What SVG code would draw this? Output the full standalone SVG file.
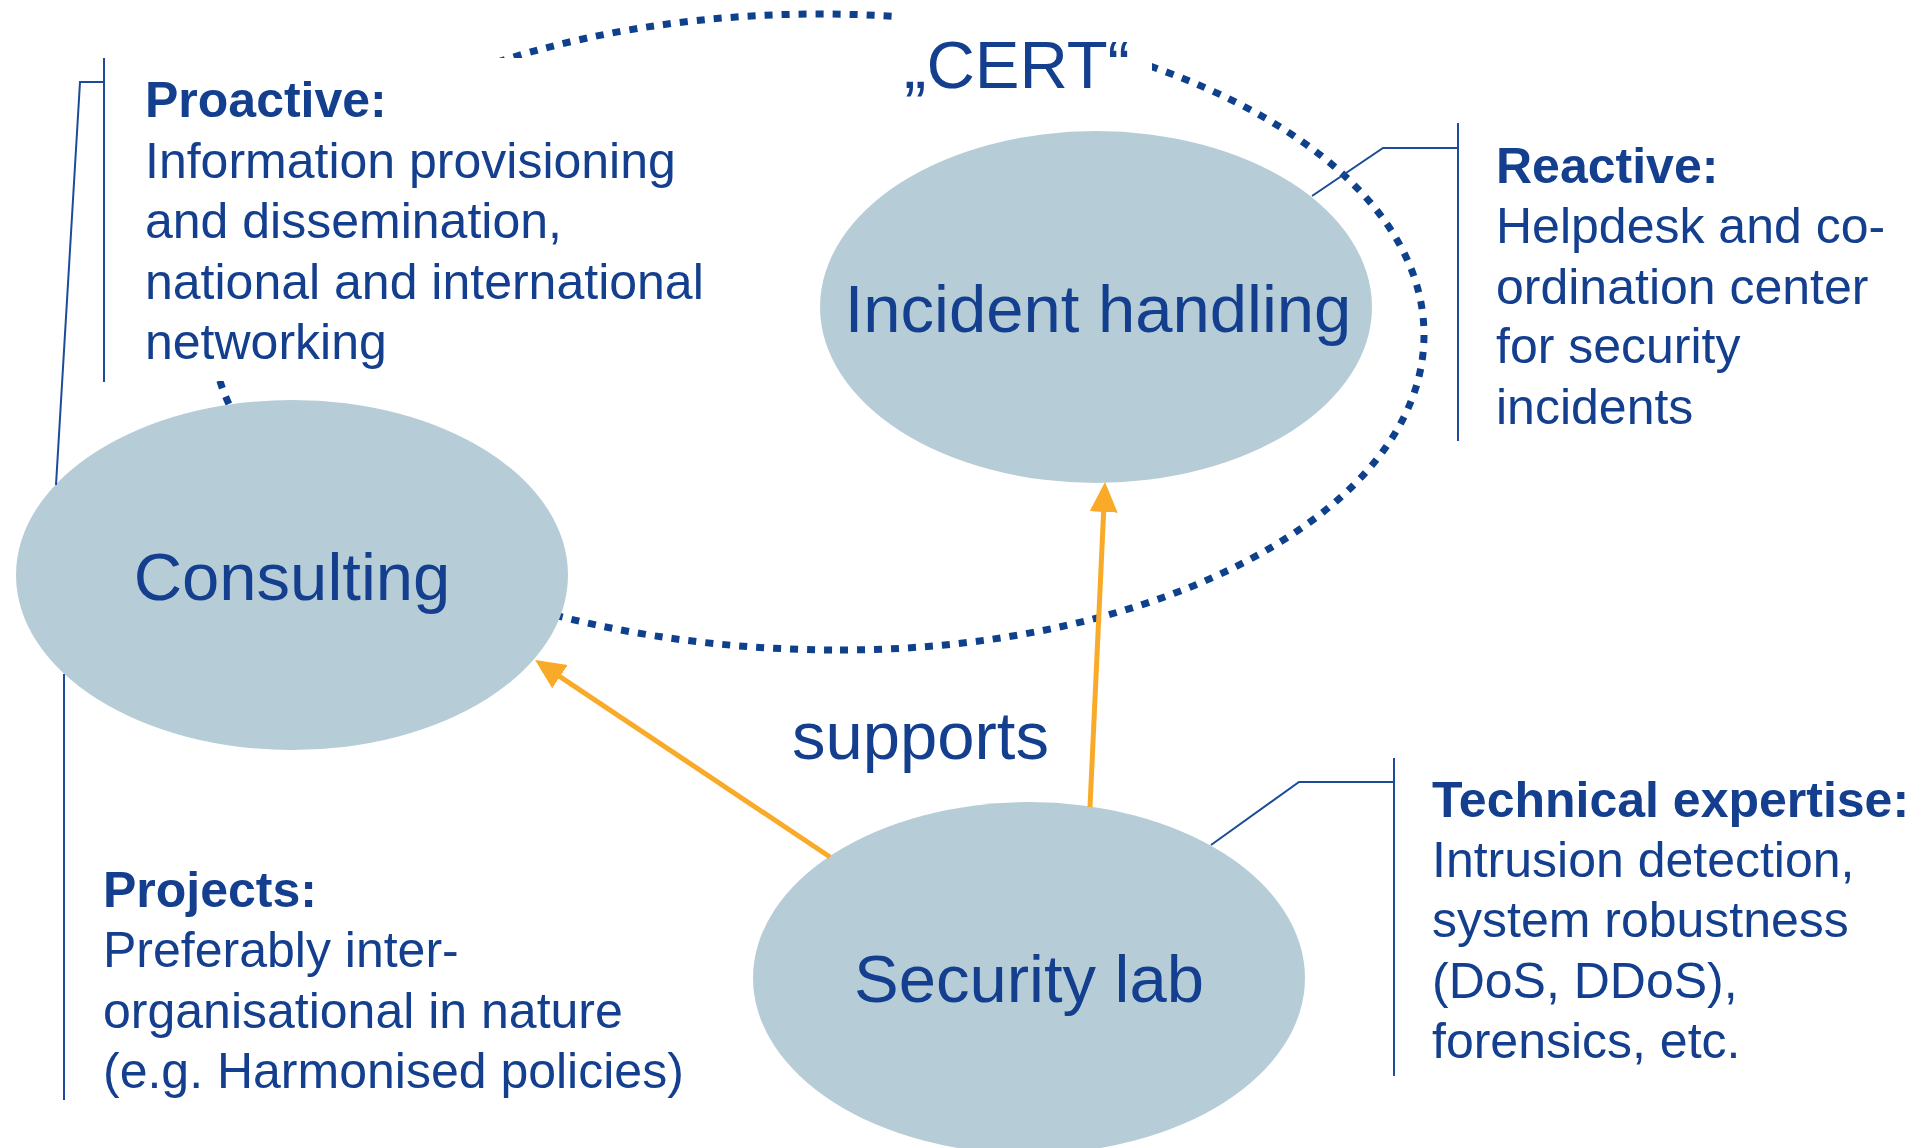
<svg xmlns="http://www.w3.org/2000/svg" width="1928" height="1148" viewBox="0 0 1928 1148">
<style>
.node{fill:#B6CDD7}
.lbl{font-family:"Liberation Sans",Arial,sans-serif;font-size:67px;fill:#133F8E;text-anchor:middle}
.txt{font-family:"Liberation Sans",Arial,sans-serif;font-size:50px;fill:#133F8E}
.hd{font-weight:bold}
.brk{fill:none;stroke:#1C4B9C;stroke-width:2}
.arr{fill:none;stroke:#F9AA28;stroke-width:5;marker-end:url(#ah)}
.cert{fill:none;stroke:#0E408C;stroke-width:7;stroke-dasharray:8 9}
.mask{fill:#FFFFFF}
</style>
<defs>
<marker id="ah" markerUnits="userSpaceOnUse" markerWidth="32" markerHeight="30" refX="6" refY="14" orient="auto">
<path d="M0,0 L30,14 L0,28 Z" fill="#F9AA28"/>
</marker>
</defs>
<rect width="1928" height="1148" fill="#FFFFFF"/>
<g id="cert-boundary">
<path class="cert" d="M840,650 C1162.5,650 1424,509 1424,335 C1424,157.7 1153.6,14 820,14 C484.2,14 212,155.5 212,330 C212,506.7 493.2,650 840,650 Z"/>
<rect class="mask" x="898" y="-5" width="254" height="110"/>
<rect class="mask" x="110" y="58" width="610" height="323"/>
<text class="lbl" x="1017" y="88">„CERT“</text>
</g>
<g id="consulting">
<ellipse class="node" cx="292" cy="575" rx="276" ry="175"/>
<text class="lbl" x="292" y="600">Consulting</text>
</g>
<g id="incident-handling">
<ellipse class="node" cx="1096" cy="307" rx="276" ry="176"/>
<text class="lbl" x="1098" y="332">Incident handling</text>
</g>
<g id="security-lab">
<ellipse class="node" cx="1029" cy="978" rx="276" ry="176"/>
<text class="lbl" x="1029" y="1002">Security lab</text>
</g>
<g id="connectors">
<polyline class="brk" points="56,485 80,82 104,82"/>
<line class="brk" x1="104" y1="58" x2="104" y2="382"/>
<line class="brk" x1="64" y1="674" x2="64" y2="1100"/>
<polyline class="brk" points="1312,196 1383,148 1458,148"/>
<line class="brk" x1="1458" y1="123" x2="1458" y2="441"/>
<polyline class="brk" points="1211,845 1299,782 1394,782"/>
<line class="brk" x1="1394" y1="758" x2="1394" y2="1076"/>
<line class="arr" x1="1090" y1="807" x2="1103.9" y2="506"/>
<line class="arr" x1="830" y1="857" x2="555" y2="673.3"/>
<text class="txt" x="792" y="759" style="font-size:67px">supports</text>
</g>
<g id="proactive">
<text class="txt hd" x="145" y="117">Proactive:</text>
<text class="txt" x="145" y="178">Information provisioning</text>
<text class="txt" x="145" y="238">and dissemination,</text>
<text class="txt" x="145" y="299">national and international</text>
<text class="txt" x="145" y="359">networking</text>
</g>
<g id="reactive">
<text class="txt hd" x="1496" y="183">Reactive:</text>
<text class="txt" x="1496" y="243">Helpdesk and co-</text>
<text class="txt" x="1496" y="304">ordination center</text>
<text class="txt" x="1496" y="363">for security</text>
<text class="txt" x="1496" y="424">incidents</text>
</g>
<g id="technical-expertise">
<text class="txt hd" x="1432" y="817">Technical expertise:</text>
<text class="txt" x="1432" y="877">Intrusion detection,</text>
<text class="txt" x="1432" y="937">system robustness</text>
<text class="txt" x="1432" y="998">(DoS, DDoS),</text>
<text class="txt" x="1432" y="1058">forensics, etc.</text>
</g>
<g id="projects">
<text class="txt hd" x="103" y="907">Projects:</text>
<text class="txt" x="103" y="967">Preferably inter-</text>
<text class="txt" x="103" y="1028">organisational in nature</text>
<text class="txt" x="103" y="1088">(e.g. Harmonised policies)</text>
</g>
</svg>
